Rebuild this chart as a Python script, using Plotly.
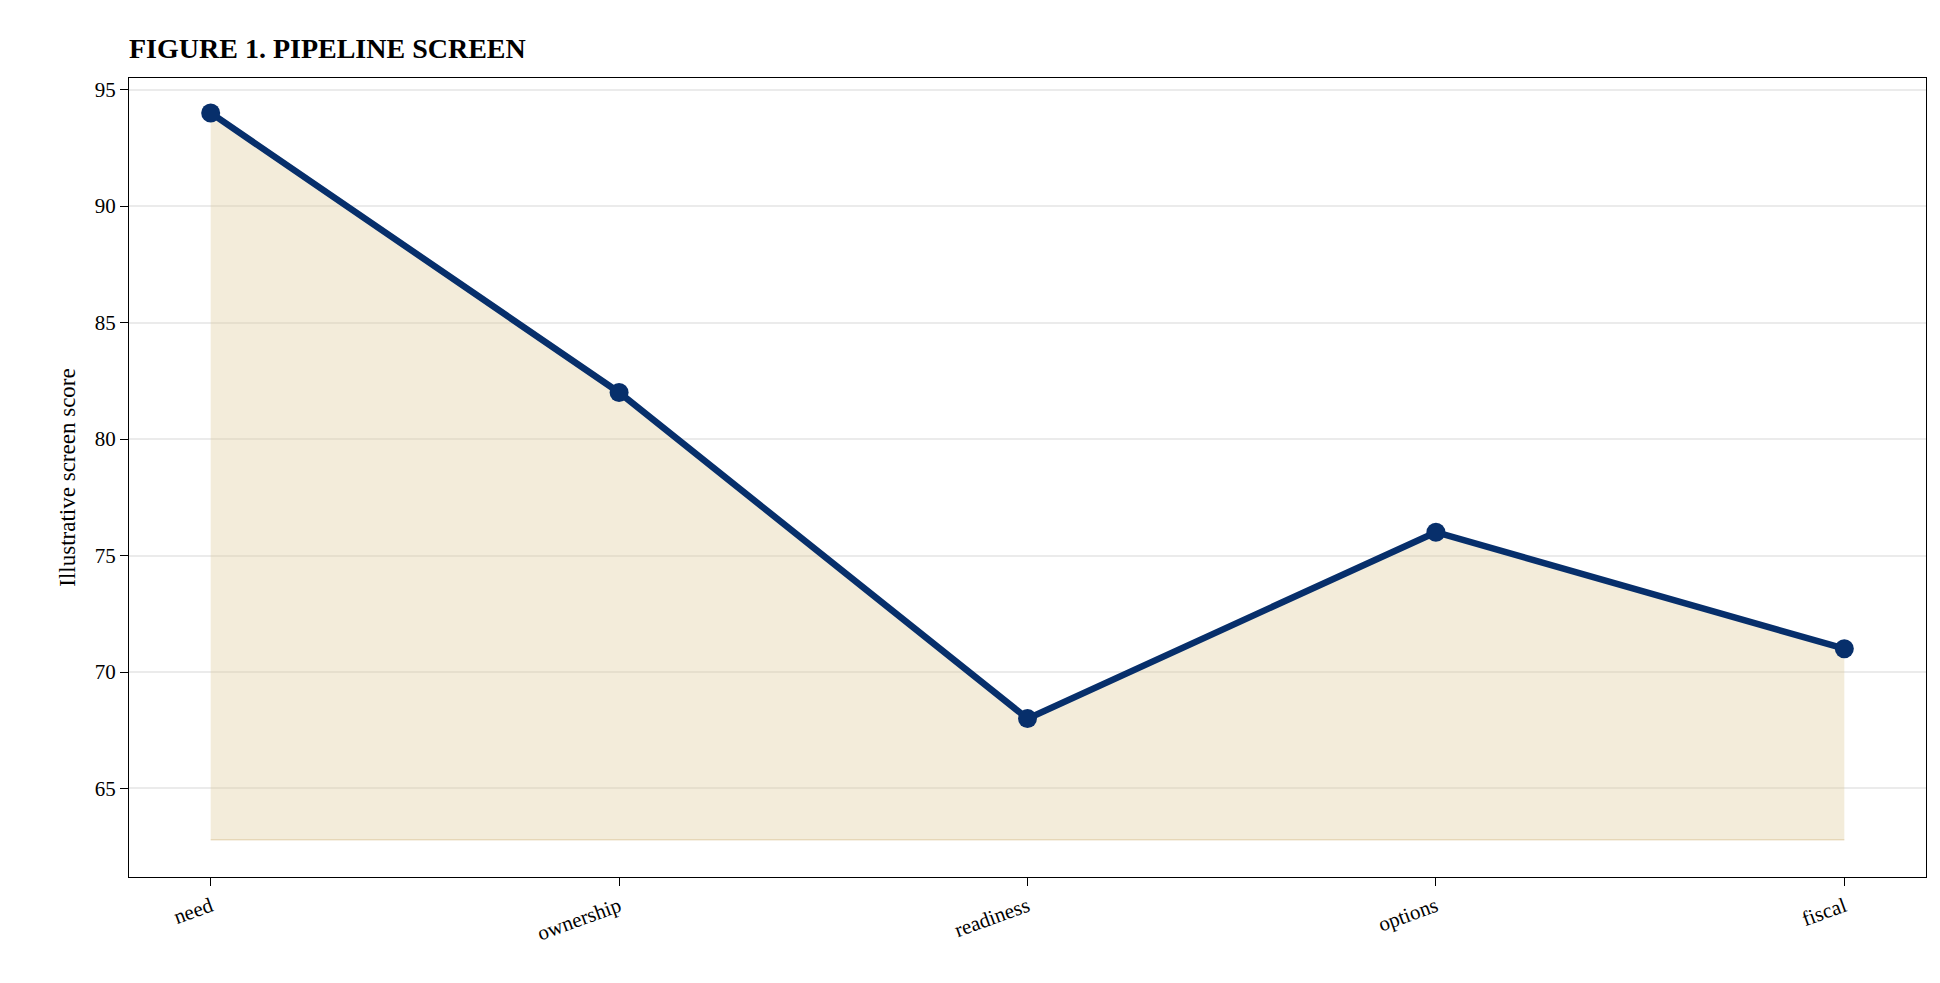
import plotly.graph_objects as go

stages = ["need", "ownership", "readiness", "options", "fiscal"]
scores = [94, 82, 68, 76, 71]
baseline = 62.8
y_ticks = [65, 70, 75, 80, 85, 90, 95]

navy = "#072f6b"
font = "Liberation Serif"

fig = go.Figure()
fig.add_trace(go.Scatter(
    x=stages, y=[baseline] * len(stages), mode="lines",
    line=dict(color="rgba(200,170,100,0.35)", width=1.5),
    hoverinfo="skip", showlegend=False,
))
fig.add_trace(go.Scatter(
    x=stages, y=scores, mode="lines+markers",
    fill="tonexty", fillcolor="rgba(222,200,150,0.35)",
    line=dict(color=navy, width=6.5),
    marker=dict(color=navy, size=19),
    showlegend=False,
))

axis_common = dict(
    showline=True, linecolor="black", linewidth=1.3, mirror=True,
    ticks="outside", ticklen=8, tickcolor="black",
    tickfont=dict(family=font, size=21, color="black"),
)
fig.update_xaxes(range=[-0.2, 4.2], tickangle=-20, showgrid=False, **axis_common)
fig.update_yaxes(
    range=[61.2, 95.5], tickvals=y_ticks, showgrid=True,
    gridcolor="rgba(0,0,0,0.08)", gridwidth=1.5, zeroline=False,
    title=dict(text="Illustrative screen score", font=dict(family=font, size=23, color="black"), standoff=12),
    **axis_common,
)
fig.update_layout(
    width=1940, height=983,
    plot_bgcolor="white", paper_bgcolor="white",
    margin=dict(l=121, r=22, t=70, b=114),
    title=dict(
        text="<b>FIGURE 1. PIPELINE SCREEN</b>",
        font=dict(family=font, size=28, color="black"),
        x=121 / 1940, xanchor="left", y=1 - 40 / 983, yanchor="middle",
    ),
)
fig.write_html("out.html")
